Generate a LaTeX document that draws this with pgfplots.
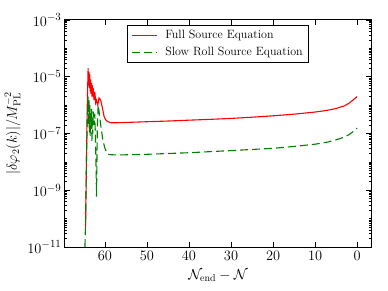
\documentclass[border=0pt]{standalone}
\usepackage{pgfplots}
\pgfplotsset{compat=1.18}
\definecolor{mplred}{RGB}{255,0,0}
\definecolor{mplgreen}{RGB}{0,128,0}
\begin{document}
\begin{tikzpicture}
\useasboundingbox (-65pt,-44pt) rectangle (323pt,247pt);
\begin{axis}[
  at={(0,0)}, anchor=south west,
  scale only axis, width=306pt, height=227pt,
  ymode=log, x dir=reverse,
  xmin=-3.3, xmax=69.5, ymin=1e-11, ymax=1e-3,
  xtick={0,10,...,60},
  ytick={1e-11,1e-9,1e-7,1e-5,1e-3},
  minor ytick={2e-11,3e-11,4e-11,5e-11,6e-11,7e-11,8e-11,9e-11,1e-10,
    2e-10,3e-10,4e-10,5e-10,6e-10,7e-10,8e-10,9e-10,
    2e-9,3e-9,4e-9,5e-9,6e-9,7e-9,8e-9,9e-9,1e-8,
    2e-8,3e-8,4e-8,5e-8,6e-8,7e-8,8e-8,9e-8,
    2e-7,3e-7,4e-7,5e-7,6e-7,7e-7,8e-7,9e-7,1e-6,
    2e-6,3e-6,4e-6,5e-6,6e-6,7e-6,8e-6,9e-6,
    2e-5,3e-5,4e-5,5e-5,6e-5,7e-5,8e-5,9e-5,1e-4,
    2e-4,3e-4,4e-4,5e-4,6e-4,7e-4,8e-4,9e-4},
  tick align=inside,
  major tick length=5pt, minor tick length=2.5pt,
  tick style={black, line width=0.6pt},
  axis line style={line width=1pt},
  ticklabel style={font=\fontsize{15}{18}\selectfont},
  xticklabel style={yshift=-1pt},
  xlabel={$\mathcal{N}_{\rm end}-\mathcal{N}$},
  ylabel={$|\delta\varphi_2(k)|/M_{\rm PL}^{-2}$},
  label style={font=\fontsize{14}{17}\selectfont},
  xlabel style={yshift=-2pt},
  legend style={at={(0.5,0.978)}, anchor=north, draw=black, line width=1pt,
    font=\fontsize{12}{14}\selectfont, row sep=3pt, column sep=6pt,
    inner xsep=4pt, inner ysep=3pt},
  legend cell align=left,
  legend image code/.code={\draw[#1, line width=1pt] (0pt,0pt) -- (25pt,0pt);},
]
\addplot[mplred, line width=1.1pt] coordinates {
(64.6,5e-11) (64.4,1e-8) (64.2,1e-6) (64.0,2e-5) (63.9,5e-6) (63.8,1.5e-5)
(63.7,4e-6) (63.6,1.2e-5) (63.5,3e-6) (63.4,8e-6) (63.3,2.5e-6) (63.2,6e-6)
(63.1,2e-6) (63.0,5e-6) (62.9,2e-6) (62.8,4e-6) (62.6,1.5e-6) (62.4,3e-6)
(62.2,1.2e-6) (62.0,1.5e-6) (61.7,1.0e-6) (61.4,1.8e-6) (61.0,1.5e-6)
(60.6,8e-7) (60.2,4e-7) (59.8,3e-7) (59.3,2.6e-7) (58.5,2.4e-7) (57,2.4e-7)
(55,2.45e-7) (50,2.6e-7) (45,2.75e-7) (40,2.95e-7) (35,3.15e-7) (30,3.4e-7)
(25,3.75e-7) (20,4.2e-7) (15,4.8e-7) (10,5.7e-7) (7,6.6e-7) (5,7.6e-7)
(3,9.5e-7) (2,1.15e-6) (1,1.5e-6) (0,2.0e-6)
};
\addlegendentry{Full Source Equation}
\addplot[mplgreen, line width=1.1pt, dash pattern=on 8pt off 4pt] coordinates {
(64.75,1e-11) (64.6,1e-10) (64.4,1e-8) (64.2,3e-7) (64.0,2e-6) (63.9,2e-7)
(63.8,1.5e-6) (63.7,1e-7) (63.6,1e-6) (63.5,8e-8) (63.4,6e-7) (63.3,1.5e-7)
(63.2,8e-7) (63.1,5e-8) (63.0,4e-7) (62.9,1e-7) (62.8,6e-7) (62.6,2e-7)
(62.4,5e-7) (62.2,3e-8) (62.0,6e-10) (61.8,2e-7) (61.6,1e-6) (61.4,6e-7)
(61.0,2e-7) (60.5,6e-8) (60.0,3e-8) (59.5,2e-8) (59.0,1.8e-8) (57,1.75e-8)
(50,1.85e-8) (40,2.1e-8) (30,2.5e-8) (20,3.0e-8) (15,3.5e-8) (10,4.2e-8)
(7,5e-8) (5,6e-8) (3,7.5e-8) (2,9e-8) (1,1.15e-7) (0,1.55e-7)
};
\addlegendentry{Slow Roll Source Equation}
\end{axis}
\end{tikzpicture}
\end{document}
